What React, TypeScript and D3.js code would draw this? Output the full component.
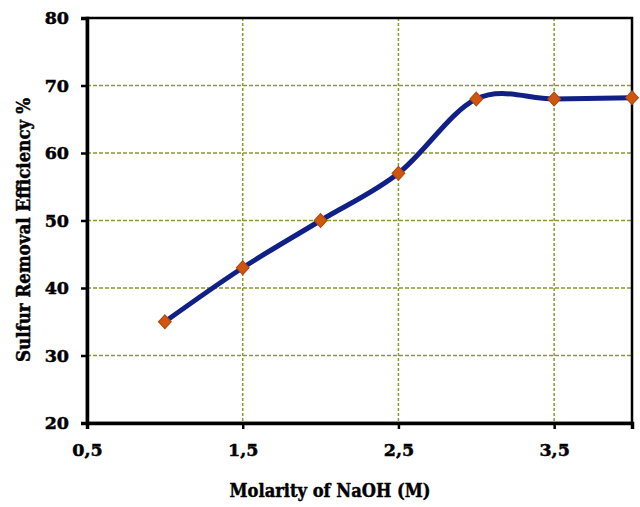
import React, { useEffect, useRef } from "react";
import * as d3 from "d3";

const molarity: number[] = [1, 1.5, 2, 2.5, 3, 3.5, 4];
const efficiency: number[] = [35, 43, 50, 57, 68, 68, 68.2];
const xTicks: number[] = [0.5, 1.5, 2.5, 3.5];
const yTicks: number[] = [20, 30, 40, 50, 60, 70, 80];

const App: React.FC = () => {
  const svgRef = useRef<SVGSVGElement | null>(null);

  useEffect(() => {
    const svg = d3.select(svgRef.current);
    const width = 640;
    const height = 507;
    const margin = { top: 18, right: 8, bottom: 84, left: 87 };
    const font = "'DejaVu Serif', serif";

    svg.selectAll("*").remove();

    const x = d3
      .scaleLinear()
      .domain([0.5, 4])
      .range([margin.left, width - margin.right]);

    const y = d3
      .scaleLinear()
      .domain([20, 80])
      .range([height - margin.bottom, margin.top]);

    const grid = "#8c9a2c";

    // horizontal grid
    svg
      .append("g")
      .selectAll("line")
      .data(yTicks.filter((t) => t > 20 && t < 80))
      .join("line")
      .attr("x1", x(0.5))
      .attr("x2", x(4))
      .attr("y1", (d) => y(d))
      .attr("y2", (d) => y(d))
      .attr("stroke", grid)
      .attr("stroke-width", 1.5)
      .attr("stroke-dasharray", "4,2");

    // vertical grid
    svg
      .append("g")
      .selectAll("line")
      .data(xTicks.filter((t) => t > 0.5))
      .join("line")
      .attr("x1", (d) => x(d))
      .attr("x2", (d) => x(d))
      .attr("y1", y(80))
      .attr("y2", y(20))
      .attr("stroke", grid)
      .attr("stroke-width", 1.5)
      .attr("stroke-dasharray", "3,2");

    // frame
    svg
      .append("rect")
      .attr("x", x(0.5))
      .attr("y", y(80))
      .attr("width", x(4) - x(0.5))
      .attr("height", y(20) - y(80))
      .attr("fill", "none")
      .attr("stroke", "#000")
      .attr("stroke-width", 2.5);

    // Y axis
    const yAxis = svg
      .append("g")
      .attr("transform", `translate(${x(0.5)},0)`)
      .call(d3.axisLeft(y).tickValues(yTicks).tickSize(6).tickPadding(12).tickFormat(d3.format("d")));
    yAxis.select(".domain").attr("stroke-width", 3.5);
    yAxis.selectAll(".tick line").attr("stroke-width", 2.5);
    yAxis
      .selectAll("text")
      .attr("font-family", font)
      .attr("font-weight", "bold")
      .attr("font-size", 17.5)
      .attr("fill", "#000")
      .attr("stroke", "#000")
      .attr("stroke-width", 0.5);

    // X axis
    const xAxis = svg
      .append("g")
      .attr("transform", `translate(0,${y(20)})`)
      .call(
        d3
          .axisBottom(x)
          .tickValues(xTicks)
          .tickSize(6)
          .tickPadding(15)
          .tickFormat((d) => d3.format(".1f")(d as number).replace(".", ","))
      );
    xAxis.select(".domain").attr("stroke-width", 3.5);
    xAxis.selectAll(".tick line").attr("stroke-width", 2.5);
    xAxis
      .selectAll("text")
      .attr("font-family", font)
      .attr("font-weight", "bold")
      .attr("font-size", 17.5)
      .attr("fill", "#000")
      .attr("stroke", "#000")
      .attr("stroke-width", 0.5);

    // line
    const points = molarity.map((m, i) => [m, efficiency[i]] as [number, number]);
    const line = d3
      .line<[number, number]>()
      .x((d) => x(d[0]))
      .y((d) => y(d[1]))
      .curve(d3.curveCardinal.tension(0));

    svg
      .append("path")
      .datum(points)
      .attr("d", line)
      .attr("fill", "none")
      .attr("stroke", "#112087")
      .attr("stroke-width", 5)
      .attr("stroke-linecap", "round");

    // markers
    const diamond = d3.symbol().type(d3.symbolDiamond).size(55);
    svg
      .append("g")
      .selectAll("path")
      .data(points)
      .join("path")
      .attr("d", diamond)
      .attr("transform", (d) => `translate(${x(d[0])},${y(d[1])}) scale(1.6,1)`)
      .attr("fill", "#d0560f")
      .attr("stroke", "#b04a10")
      .attr("stroke-width", 0.8);

    // axis titles
    svg
      .append("text")
      .attr("x", 330)
      .attr("y", 497)
      .attr("text-anchor", "middle")
      .attr("font-family", font)
      .attr("font-weight", "bold")
      .attr("font-size", 19)
      .attr("stroke", "#000")
      .attr("stroke-width", 0.5)
      .attr("textLength", 201)
      .attr("lengthAdjust", "spacingAndGlyphs")
      .text("Molarity of NaOH (M)");

    svg
      .append("text")
      .attr("transform", `translate(30,230) rotate(-90)`)
      .attr("text-anchor", "middle")
      .attr("font-family", font)
      .attr("font-weight", "bold")
      .attr("font-size", 19)
      .attr("stroke", "#000")
      .attr("stroke-width", 0.5)
      .attr("textLength", 264)
      .attr("lengthAdjust", "spacingAndGlyphs")
      .text("Sulfur Removal Efficiency %");

    svg.attr("width", width).attr("height", height);
  }, []);

  return (
    <div style={{ position: "absolute", left: 0, top: 0, width: 640, height: 507, background: "#fff" }}>
      <svg ref={svgRef} style={{ display: "block" }}></svg>
    </div>
  );
};

export default App;
